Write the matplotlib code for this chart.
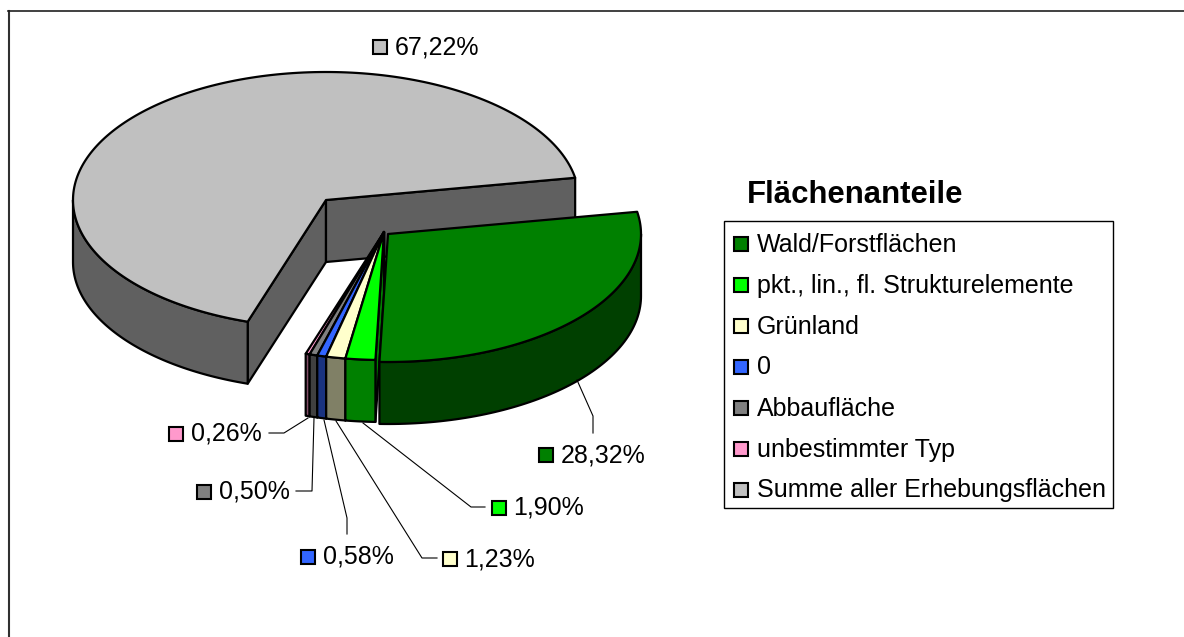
import matplotlib
matplotlib.use('Agg')
import matplotlib.pyplot as plt
from matplotlib.patches import Polygon, Rectangle
import numpy as np

plt.rcParams['font.family'] = ['Liberation Sans', 'DejaVu Sans']

# data, in order of the slices (clockwise)
names = ['Wald/Forstflächen', 'pkt., lin., fl. Strukturelemente', 'Grünland', '0',
         'Abbaufläche', 'unbestimmter Typ', 'Summe aller Erhebungsflächen']
shares = [28.32, 1.90, 1.23, 0.58, 0.50, 0.26, 67.22]
top_colors = ['#008000', '#00FF00', '#FFFFCC', '#3366FF', '#808080', '#FF99CC', '#C0C0C0']
side_colors = ['#004000', '#008000', '#808066', '#1A3380', '#404040', '#804D66', '#606060']

# label square position per slice, pixels
label_pos = [(545.5, 455), (498.5, 507.5), (449.5, 559), (307.5, 556.5), (203.5, 492), (176, 433.5), (379.5, 47)]
leaders = [[(593, 433), (593, 416), (577, 380)],
           [(485, 507), (471, 507), (363, 423)],
           [(437, 558), (422, 558), (336, 421)],
           [(347, 534), (347, 518), (324, 420)],
           [(296, 491), (312, 491), (314, 418)],
           [(269, 433), (284, 433), (308, 418)]]

RX, RY, DEPTH = 253, 128, 62
START = 10.0
# the pie is pulled apart: big grey slice, the Wald slice, the small ones
apex = [(388, 234), (384, 232), (384, 232), (384, 232), (384, 232), (384, 232), (326, 200)]
order = [6, 5, 4, 3, 2, 1, 0]


def rim(cx, cy, t):
    t = np.radians(t)
    return np.column_stack([cx + RX * np.cos(t), cy - RY * np.sin(t)])


def draw_slice(ax, i, t1, t2):
    # t1 > t2, clockwise from t1 to t2
    cx, cy = apex[i]
    edge = dict(edgecolor='black', linewidth=1.6, joinstyle='round')
    side = side_colors[i]
    # radial walls which can be seen from the front
    for t, visible in ((t1, np.cos(np.radians(t1)) < 0), (t2, np.cos(np.radians(t2)) > 0)):
        if not visible:
            continue
        p = rim(cx, cy, np.array([t]))[0]
        ax.add_patch(Polygon([(cx, cy), p, (p[0], p[1] + DEPTH), (cx, cy + DEPTH)],
                             facecolor=side, **edge))
    # outer wall, only the front half of the rim
    lo, hi = max(t2, -180), min(t1, 0)
    if lo < hi:
        up = rim(cx, cy, np.linspace(hi, lo, 80))
        down = up[::-1] + [0, DEPTH]
        ax.add_patch(Polygon(np.vstack([up, down]), facecolor=side, **edge))
    # top
    ts = np.linspace(t1, t2, 200)
    ax.add_patch(Polygon(np.vstack([[(cx, cy)], rim(cx, cy, ts)]), facecolor=top_colors[i], **edge))


def square(ax, x, y, color, size=14):
    ax.add_patch(Rectangle((x - size / 2, y - size / 2), size, size, facecolor=color,
                           edgecolor='black', linewidth=1.5, zorder=5))


def main():
    fig = plt.figure(figsize=(11.84, 6.37), dpi=100)
    ax = fig.add_axes([0, 0, 1, 1])
    ax.set_xlim(0, 1184)
    ax.set_ylim(637, 0)
    ax.axis('off')

    # chart frame, only top and left are in the picture
    ax.plot([9, 9], [640, 11], color='#303030', lw=1.5)
    ax.plot([8, 1190], [11, 11], color='#202020', lw=1.2)

    ends = START - np.cumsum(np.array(shares)) * 360 / sum(shares)
    starts = np.concatenate([[START], ends[:-1]])
    for i in order:
        draw_slice(ax, i, starts[i], ends[i])

    for pts in leaders:
        xs, ys = zip(*pts)
        ax.plot(xs, ys, color='black', lw=0.8)

    for i, (x, y) in enumerate(label_pos):
        square(ax, x, y, top_colors[i])
        ax.text(x + 15, y, f'{shares[i]:.2f}%'.replace('.', ','), fontsize=18, va='center', ha='left')

    # legend
    ax.text(747, 195, 'Flächenanteile', fontsize=22.4, fontweight='bold', va='center', ha='left')
    ax.add_patch(Rectangle((724, 221), 389, 287, facecolor='white', edgecolor='black', linewidth=1.0))
    for i, name in enumerate(names):
        y = 244 + i * 41
        square(ax, 741, y, top_colors[i])
        ax.text(757, y + 0.5, name, fontsize=18, va='center', ha='left')

    fig.savefig('out.png', dpi=100)


if __name__ == '__main__':
    main()
